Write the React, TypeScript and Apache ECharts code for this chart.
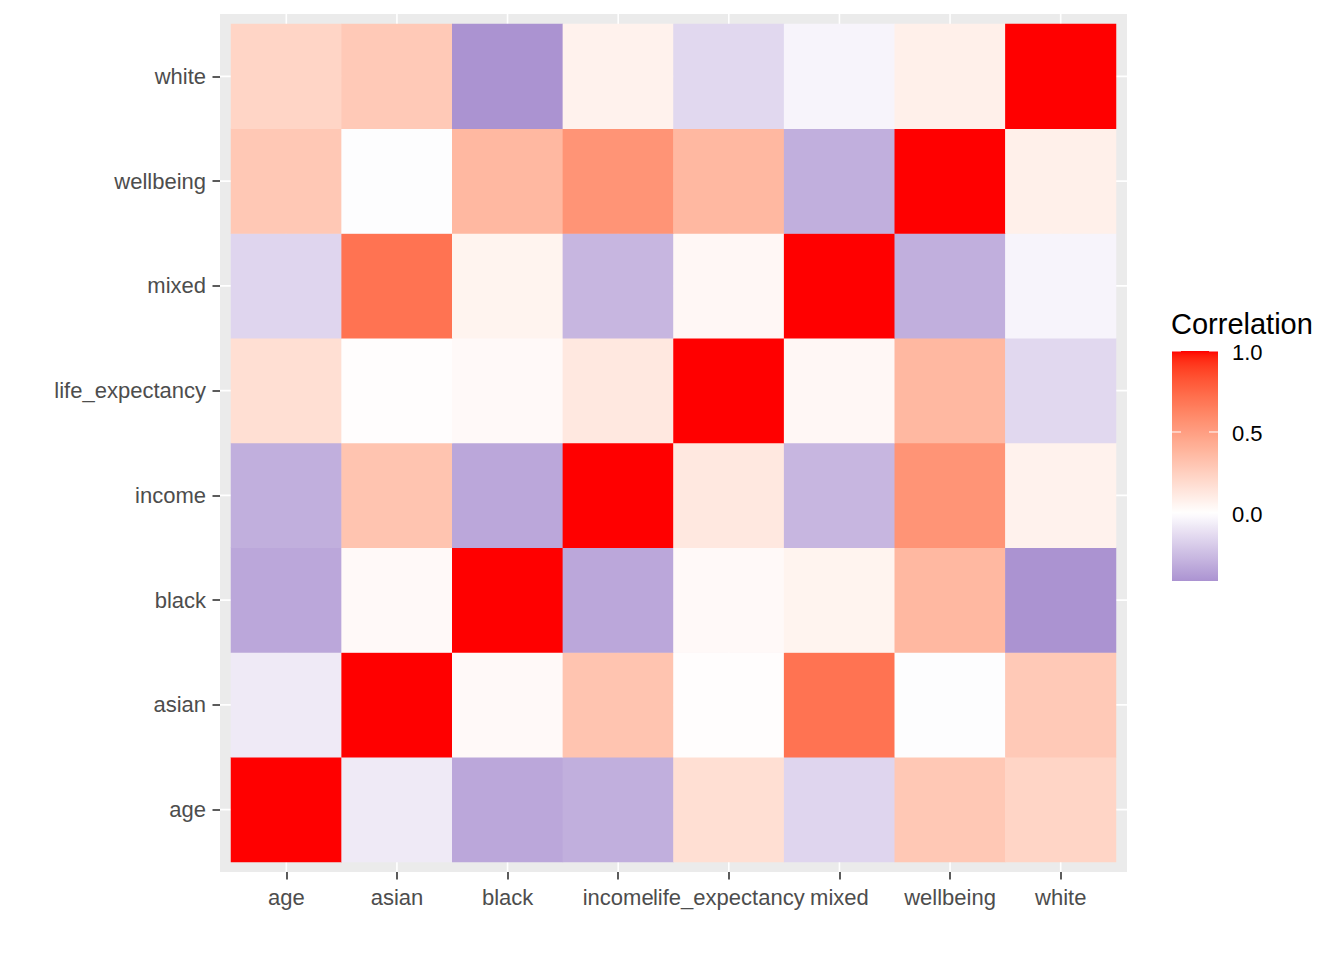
import React, { useEffect, useRef } from "react";
import * as echarts from "echarts";

// ---- data ----
const variables = ["age", "asian", "black", "income", "life_expectancy", "mixed", "wellbeing", "white"];
const corAge = [1, -0.08, -0.34, -0.31, 0.17, -0.16, 0.29, 0.22];
const corAsian = [-0.08, 1, 0.03, 0.31, 0.01, 0.7, -0.01, 0.28];
const corBlack = [-0.34, 0.03, 1, -0.34, 0.03, 0.06, 0.37, -0.42];
const corIncome = [-0.31, 0.31, -0.34, 1, 0.12, -0.28, 0.55, 0.07];
const corLife = [0.17, 0.01, 0.03, 0.12, 1, 0.04, 0.37, -0.15];
const corMixed = [-0.16, 0.7, 0.06, -0.28, 0.04, 1, -0.31, -0.04];
const corWellbeing = [0.29, -0.01, 0.37, 0.55, 0.37, -0.31, 1, 0.08];
const corWhite = [0.22, 0.28, -0.42, 0.07, -0.15, -0.04, 0.08, 1];
const rows = [corAge, corAsian, corBlack, corIncome, corLife, corMixed, corWellbeing, corWhite];
const legendBreaks = [0, 0.5, 1.0];
const legendLabels = ["0.0", "0.5", "1.0"];
const legendTitle = "Correlation";

// ---- colour helpers (Lab interpolation, like ggplot's gradient2) ----
const LOW = "#AB93D1";
const MID = "#FFFFFF";
const HIGH = "#FF0000";
const Xn = 0.95047, Zn = 1.08883;
function hexToRgb(h: string) {
  const n = parseInt(h.slice(1), 16);
  return [(n >> 16) & 255, (n >> 8) & 255, n & 255];
}
function toLin(c: number) { c /= 255; return c <= 0.04045 ? c / 12.92 : Math.pow((c + 0.055) / 1.055, 2.4); }
function fromLin(c: number) { const v = c <= 0.0031308 ? 12.92 * c : 1.055 * Math.pow(c, 1 / 2.4) - 0.055; return Math.max(0, Math.min(255, Math.round(v * 255))); }
function f(t: number) { return t > 0.008856 ? Math.cbrt(t) : 7.787 * t + 16 / 116; }
function finv(t: number) { return t > 0.206893 ? t * t * t : (t - 16 / 116) / 7.787; }
function hexToLab(h: string) {
  const [r, g, b] = hexToRgb(h).map(toLin);
  const X = 0.4124 * r + 0.3576 * g + 0.1805 * b;
  const Y = 0.2126 * r + 0.7152 * g + 0.0722 * b;
  const Z = 0.0193 * r + 0.1192 * g + 0.9505 * b;
  const fx = f(X / Xn), fy = f(Y), fz = f(Z / Zn);
  return [116 * fy - 16, 500 * (fx - fy), 200 * (fy - fz)];
}
function labToHex(L: number, a: number, b: number) {
  const fy = (L + 16) / 116, fx = fy + a / 500, fz = fy - b / 200;
  const X = Xn * finv(fx), Y = finv(fy), Z = Zn * finv(fz);
  const r = 3.2406 * X - 1.5372 * Y - 0.4986 * Z;
  const g = -0.9689 * X + 1.8758 * Y + 0.0415 * Z;
  const bb = 0.0557 * X - 0.204 * Y + 1.057 * Z;
  const hx = (v: number) => fromLin(v).toString(16).padStart(2, "0");
  return "#" + hx(r) + hx(g) + hx(bb);
}
const labLow = hexToLab(LOW), labMid = hexToLab(MID), labHigh = hexToLab(HIGH);
function lerpLab(p: number[], q: number[], t: number) {
  return labToHex(p[0] + (q[0] - p[0]) * t, p[1] + (q[1] - p[1]) * t, p[2] + (q[2] - p[2]) * t);
}

export default function App() {
  const ref = useRef<HTMLDivElement>(null);
  useEffect(() => {
    if (!ref.current) return;
    const chart = echarts.init(ref.current, null, { renderer: "svg" });
    const all = rows.flat();
    const vMin = Math.min(...all);
    const vMax = Math.max(...all);
    const colorFor = (v: number) =>
      v >= 0 ? lerpLab(labMid, labHigh, v / vMax) : lerpLab(labMid, labLow, v / vMin);
    const step = 0.02;
    const nStops = Math.round((vMax - vMin) / step);
    const stops: string[] = [];
    for (let k = 0; k <= nStops; k++) stops.push(colorFor(vMin + ((vMax - vMin) * k) / nStops));

    const heatData: number[][] = [];
    rows.forEach((row, yi) => row.forEach((v, xi) => heatData.push([xi, yi, v])));

    const font = "Liberation Sans, Arial, sans-serif";
    const gridLeft = 231, gridTop = 24, gridW = 885, gridH = 838;
    const padX = 11, padY = 10;

    // legend
    const barX = 1172, barY = 351, barW = 46, barH = 230;
    const valToY = (v: number) => barY + ((vMax - v) / (vMax - vMin)) * barH;
    const gradStops: { offset: number; color: string }[] = [];
    const nG = 60;
    for (let k = 0; k <= nG; k++) {
      const v = vMax - ((vMax - vMin) * k) / nG;
      gradStops.push({ offset: k / nG, color: colorFor(v) });
    }
    const legendEls: any[] = [
      {
        type: "rect",
        shape: { x: barX, y: barY, width: barW, height: barH },
        style: { fill: { type: "linear", x: 0, y: 0, x2: 0, y2: 1, colorStops: gradStops } },
      },
      {
        type: "text",
        style: { text: legendTitle, x: barX - 1, y: 324, font: `29px ${font}`, fill: "#000000", verticalAlign: "middle", textVerticalAlign: "middle" },
      },
    ];
    legendBreaks.forEach((b, i) => {
      const y = valToY(b);
      legendEls.push({ type: "line", shape: { x1: barX, y1: y, x2: barX + 9, y2: y }, style: { stroke: "#FFFFFF", lineWidth: 1 } });
      legendEls.push({ type: "line", shape: { x1: barX + barW - 9, y1: y, x2: barX + barW, y2: y }, style: { stroke: "#FFFFFF", lineWidth: 1 } });
      legendEls.push({
        type: "text",
        style: { text: legendLabels[i], x: 1232, y: y + 1.5, font: `22px ${font}`, fill: "#000000", verticalAlign: "middle", textVerticalAlign: "middle" },
      });
    });

    chart.setOption({
      animation: false,
      backgroundColor: "#FFFFFF",
      graphic: [
        { type: "rect", z: 0, shape: { x: gridLeft - padX, y: gridTop - padY, width: gridW + 2 * padX, height: gridH + 2 * padY }, style: { fill: "#EBEBEB" } },
        { type: "group", children: legendEls },
      ],
      grid: { left: gridLeft, top: gridTop, width: gridW, height: gridH, show: false },
      xAxis: {
        type: "category",
        data: variables,
        offset: padY,
        axisLine: { show: false },
        axisTick: { show: true, alignWithLabel: true, length: 7.5, lineStyle: { color: "#333333", width: 1.6 } },
        axisLabel: { interval: 0, hideOverlap: false, margin: 14, color: "#4D4D4D", fontSize: 22, fontFamily: font },
        splitLine: { show: false },
      },
      yAxis: {
        type: "category",
        data: variables,
        offset: padX,
        axisLine: { show: false },
        axisTick: { show: true, alignWithLabel: true, length: 7.5, lineStyle: { color: "#333333", width: 1.6 } },
        axisLabel: { interval: 0, hideOverlap: false, margin: 14, color: "#4D4D4D", fontSize: 22, fontFamily: font, padding: [4, 0, 0, 0] },
        splitLine: { show: false },
      },
      visualMap: {
        show: false,
        type: "continuous",
        min: vMin,
        max: vMax,
        dimension: 2,
        seriesIndex: 1,
        inRange: { color: stops },
      },
      series: [
        {
          type: "custom",
          z: 1,
          clip: false,
          silent: true,
          data: variables.map((_, i) => [i, i]),
          renderItem: (params: any, api: any) => {
            const cs = params.coordSys;
            const x = api.coord([api.value(0), 0])[0];
            const y = api.coord([0, api.value(1)])[1];
            return {
              type: "group",
              children: [
                { type: "line", shape: { x1: x, y1: cs.y - padY, x2: x, y2: cs.y + cs.height + padY }, style: { stroke: "#FFFFFF", lineWidth: 1.6 } },
                { type: "line", shape: { x1: cs.x - padX, y1: y, x2: cs.x + cs.width + padX, y2: y }, style: { stroke: "#FFFFFF", lineWidth: 1.6 } },
              ],
            };
          },
        },
        {
          type: "heatmap",
          z: 2,
          data: heatData,
          itemStyle: { borderWidth: 0 },
          emphasis: { disabled: true },
          progressive: 0,
        },
      ],
    });
    return () => chart.dispose();
  }, []);
  return <div ref={ref} style={{ position: "fixed", left: 0, top: 0, width: 1344, height: 960 }} />;
}
